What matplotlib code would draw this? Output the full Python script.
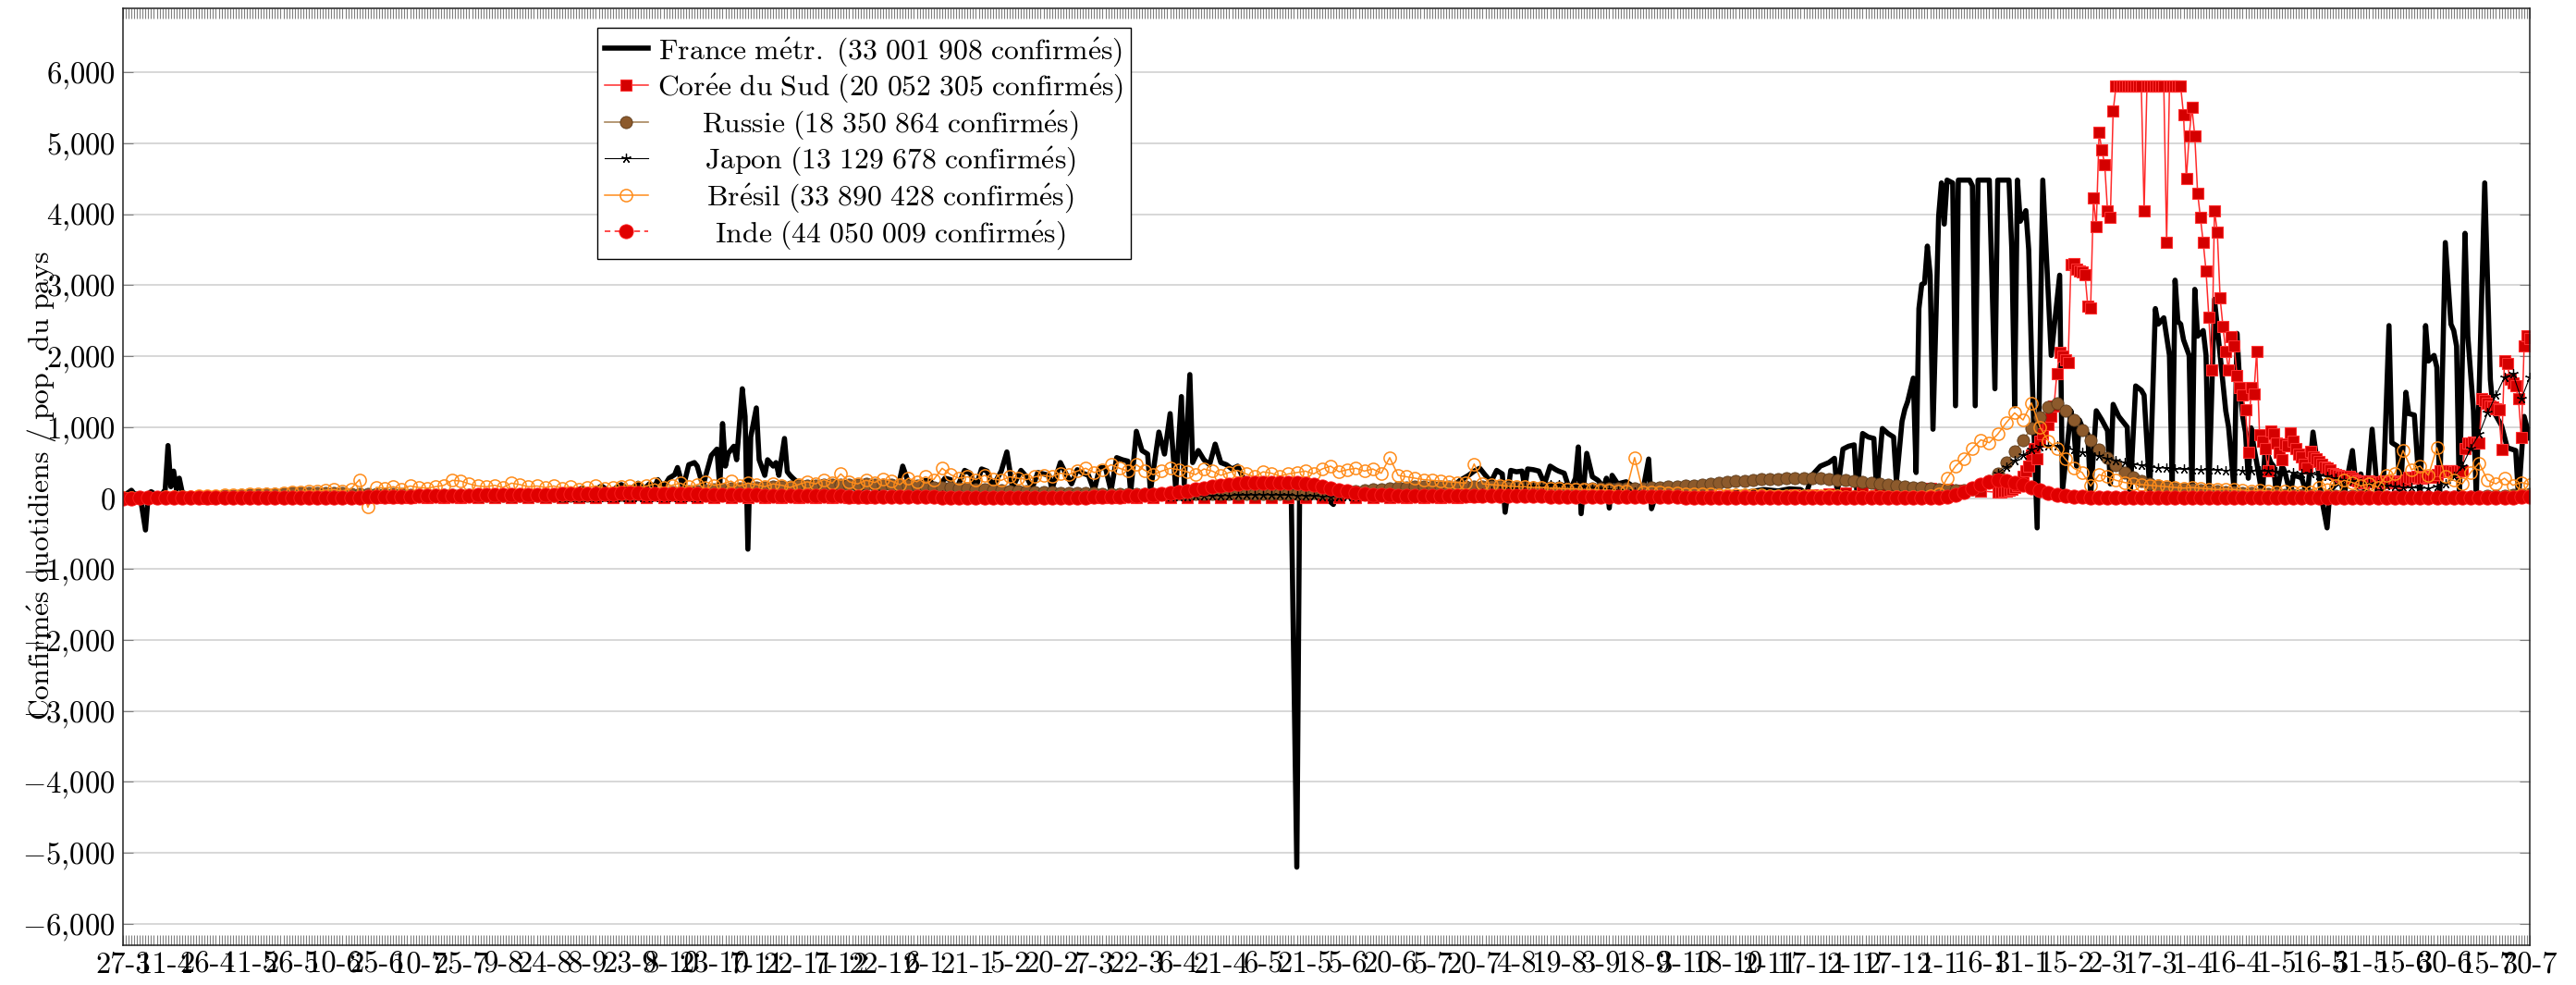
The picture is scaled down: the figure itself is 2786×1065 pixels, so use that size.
import numpy as np
import pandas as pd
import matplotlib
matplotlib.use('Agg')
import matplotlib.pyplot as plt

plt.rcParams['mathtext.fontset'] = 'cm'
plt.rcParams['font.family'] = ['cmr10', 'DejaVu Serif']
plt.rcParams['axes.unicode_minus'] = False

start = pd.Timestamp('2020-03-27')
n_days = 856

# France : (jour depuis le 27-3-2020, valeur)
france_day = [0, 2, 3, 4, 6, 8, 9, 10, 12, 14, 15, 16, 17, 18, 19, 20, 21, 22, 24, 27, 30,
              35, 45, 55, 65, 75, 85, 95, 105, 115, 125, 132, 138, 142, 145, 150, 152, 156, 159, 163, 166,
              170, 173, 177, 180, 183, 185, 187, 189, 190, 192,
              194, 196, 197, 199, 201, 203, 204, 206, 209, 211, 212, 213, 214, 215, 217, 218, 220, 221, 222,
              223, 225, 226, 228, 229, 231, 232, 233, 235, 236, 237, 238, 240,
              243, 245, 247, 249, 252, 254, 256, 259, 261, 264, 266, 268, 271, 273, 275, 277, 279, 282, 285,
              287, 289, 292, 294, 296, 299, 301, 303, 305, 307, 309, 312, 314, 316, 319, 321, 323, 325, 327,
              329, 330, 333, 335, 337, 339, 341, 343, 345, 347, 349, 351, 353, 355, 357, 358, 360, 362, 364,
              365, 368, 370, 372, 374, 376, 377, 379, 380, 382, 384, 386, 388, 390, 392, 394, 396, 398, 400,
              403, 406, 409, 412, 415, 417, 418, 421, 425, 430, 431, 440, 450, 460, 468, 472, 475, 478, 480,
              482, 484, 486, 488, 490, 491, 493, 495, 497, 498, 499, 501, 503, 505, 507, 509, 510, 512, 514,
              516, 517, 518, 520, 522, 524, 526, 527, 528, 529, 531, 534, 537, 540, 542, 543, 545, 550, 555,
              560, 566, 572, 578, 583, 588, 592, 596, 598, 600, 603, 606, 608, 609, 611, 613, 615, 616, 618,
              620, 622, 623, 625, 627, 629, 630, 632, 633, 634, 636, 637, 638, 639, 640, 641, 642, 643, 645,
              646, 647, 648, 650, 651, 652, 654, 656, 657, 658, 659, 661, 663, 665, 666, 668, 670, 671, 672,
              673, 674, 676, 677, 678, 680, 682, 685, 688, 689, 692, 693, 694, 695, 696, 698, 699, 701, 703,
              705, 706, 707, 709, 711, 712, 713, 715, 717, 718, 720, 722, 723, 725, 727, 728, 729, 730, 731,
              732, 734, 735, 736, 737, 739, 740, 741, 743, 745, 747, 748, 750, 751, 752, 753, 754, 755, 756,
              757, 758, 760, 761, 763, 764, 765, 767, 768, 770, 771, 773, 774, 776, 778, 780, 781, 783, 784,
              786, 788, 789, 792, 793, 794, 795, 797, 799, 800, 801, 803, 805, 806, 808, 809, 811, 812, 814,
              816, 818, 819, 821, 822, 823, 825, 827, 828, 829, 830, 832, 833, 835, 836, 839, 841, 842, 845,
              847, 850, 851, 853, 855]
france_val = [30, 80, 110, 60, 50, -450, 60, 90, 40, 60, 120, 740, 160, 380, 120, 280, 90, 60, 40, 30, 25,
              20, 15, 10, 8, 8, 10, 12, 15, 20, 30, 45, 60, 40, 70, 90, 50, 110, 60, 140, 80,
              170, 90, 190, 110, 210, 120, 200, 170, 260, 150,
              280, 330, 430, 150, 470, 500, 450, 170, 600, 690, 150, 1050, 450, 630, 730, 540, 1540, 1150, -720,
              860, 1270, 540, 320, 540, 450, 500, 320, 840, 370, 320, 280, 210,
              180, 220, 90, 200, 170, 80, 190, 200, 90, 180, 160, 60, 200, 180, 90, 450, 220, 100, 250,
              230, 110, 280, 260, 120, 390, 350, 150, 410, 380, 160, 380, 650, 150, 390, 300, 140, 360, 340,
              320, 120, 500, 340, 200, 400, 350, 320, 100, 430, 430, 100, 570, 540, 520, 80, 940, 670, 620,
              100, 930, 620, 1190, 120, 1430, 200, 1740, 500, 670, 540, 470, 760, 500, 470, 410, 450, 280, 220,
              180, 150, 130, 120, 100, -5200, 90, 90, 80, -90, 70, 60, 50, 60, 90, 150, 250, 320, 380,
              420, 320, 230, 390, 340, -200, 390, 370, 380, 150, 410, 400, 380, 200, 450, 400, 380, 350, 100,
              280, 720, -220, 630, 300, 250, 150, 280, -140, 320, 200, 230, 150, 120, 550, -150, 100, 80, 70,
              60, 60, 70, 90, 120, 100, 130, 120, 60, 320, 450, 500, 560, 60, 690, 730, 750, 50, 910,
              860, 840, 60, 980, 910, 860, 230, 1080, 1250, 1360, 1690, 360, 2670, 3010, 3030, 3550, 3140, 970, 3970,
              4440, 3860, 4480, 4440, 1300, 4480, 4480, 4480, 4400, 1300, 4480, 4480, 4480, 1540, 4480, 4480, 4480, 3500, 1300,
              4480, 3900, 4050, 3500, 2000, -420, 4480, 2010, 3140, 100, 1230, 1000, 450, 1100, 1000, 900, 30, 1230, 1100,
              950, 200, 1320, 1150, 1050, 1000, 20, 1580, 1520, 1450, 100, 2670, 2450, 2540, 2010, 200, 3070, 2490, 2450,
              2230, 2010, 80, 2940, 2280, 2360, 2010, 90, 2800, 2010, 1230, 1000, 100, 2320, 1580, 1150, 930, 280, 990,
              710, 500, 30, 710, 500, 450, 40, 450, 370, 50, 320, 300, 280, 30, 930, 360, 10, -420, 100,
              190, 230, 30, 670, 280, 150, 340, 0, 970, 500, 0, 150, 2430, 780, 730, 0, 1490, 1190, 1170,
              0, 2430, 1930, 2010, 1840, 0, 3600, 2450, 2360, 2140, 0, 3730, 2280, 1230, 0, 4440, 1670, 1230, 1020,
              710, 670, 0, 1150, 850]

# Corée du Sud : tous les 6 jours jusqu'au jour 666, puis quotidien
korea_early = [2, 2, 1, 1, 1, 0, 1, 1, 1, 1, 1, 1, 1, 1, 1, 1, 2, 4, 5, 6, 4, 3, 2, 2, 2, 2, 1, 1, 2, 2,
               2, 2, 1, 2, 2, 3, 4, 5, 6, 7, 10,
               9, 10, 12, 13, 17, 20, 19, 18, 16, 14, 12, 9, 8, 7, 8,
               8, 8, 9, 8, 8, 9, 10, 11, 12, 12, 11, 11, 10, 10, 11, 12, 10, 9, 10, 9, 8, 8, 10, 12, 22,
               30, 32, 33, 35, 36, 34, 33, 30, 35, 40, 45, 43, 40, 37, 36, 35, 33, 32, 40, 50,
               60, 70, 85, 110, 130, 140, 135, 120, 110, 100, 80]
korea_late = [90, 95, 100, 110, 130, 150, 180, 220, 300, 380, 450, 600, 700, 560, 800, 900, 1060, 1040, 1150, 1300,
              1750, 2050, 2000, 1950, 1910, 3290, 3300, 3230, 3200, 3190, 3150, 2700, 2680, 4230, 3820, 5150, 4900,
              4700, 4050, 3950, 5450, 5800,
              5800, 5800, 5800, 5800, 5800, 5800, 5800, 5800, 5800, 4050,
              5800, 5800, 5800, 5800, 5800, 5800, 5800, 3600, 5800, 5800, 5800, 5800, 5800,
              5400, 4500, 5100, 5500, 5100, 4300, 3950, 3600, 3200, 2550, 1800, 4050, 3750,
              2820, 2420, 2070, 1800, 2280, 2140, 1730, 1560, 1450, 1240, 650,
              1560, 1470, 2070, 890, 800, 700, 390, 950, 900, 780, 640, 540, 760, 740,
              915, 800, 700, 620, 580, 470, 430, 660, 580, 550, 520, 470, 440, 420,
              400, 340, 330, 320, 310, 300, 310, 300, 280, 250, 240, 230, 220, 230,
              240, 230, 230, 220, 230, 240, 230, 220, 230, 240, 230, 220, 230, 250,
              290, 280, 290, 300, 290, 280, 290, 300, 290, 290, 330, 390, 380, 370,
              380, 390, 370, 380, 390, 380, 700, 780, 770, 790, 780, 770, 1400, 1380,
              1340, 1300, 1280, 1260, 1240, 680, 1930, 1900, 1670, 1620, 1580, 1400, 850, 2150,
              2290, 2250]

# autres pays : une valeur tous les 3 jours
russie = [1, 2, 2, 3, 4, 5, 7, 9, 12, 15, 20, 25, 30, 35, 40, 45, 50, 55, 60, 65,
          68, 70, 72, 72, 70, 68, 66, 64, 62, 60, 58, 56, 55, 53, 50, 48, 46, 45, 44, 43, 42, 40, 38, 37, 36,
          35, 34, 34, 33, 33,
          34, 34, 35, 36, 37, 38, 40, 42, 45, 48, 52, 56, 60, 65, 72, 80, 88, 95, 103, 110, 118, 125, 132, 138,
          143, 148, 152, 157, 162, 167,
          172, 177, 182, 186, 190, 192, 194, 195, 196, 195, 194, 190, 185, 178, 170, 163, 156, 150, 145, 140,
          134, 127, 120, 114, 108, 102, 97, 92, 88, 84,
          80, 77, 74, 71, 68, 66, 64, 62, 61, 60, 60, 59, 58, 58, 58, 57, 57, 58, 58, 59, 59, 60, 60, 60, 59,
          58, 58, 59, 60, 62,
          64, 67, 70, 75, 82, 90, 100, 110, 120, 130, 138, 145, 152, 158, 162, 165, 166, 167, 167, 166, 165,
          163, 160, 158, 156, 154, 152, 150, 148, 146,
          145, 143, 141, 139, 138, 137, 136, 137, 138, 140, 143, 147, 152, 158, 165, 173, 182, 192, 203, 214,
          225, 235, 245, 254, 262, 268, 273, 276, 278, 279,
          278, 274, 268, 260, 250, 238, 226, 214, 202, 190, 178, 166, 155, 145, 135, 125, 117, 112, 115, 130,
          170, 240, 350, 500, 660, 820, 980, 1140, 1280, 1330,
          1230, 1100, 960, 820, 690, 570, 460, 360, 290, 240, 200, 175, 155, 140, 128, 118, 110, 102, 95, 88,
          82, 76, 70, 65, 60, 55, 50, 46, 43, 40,
          37, 35, 33, 31, 29, 28, 26, 25, 24, 23, 22, 22, 21, 21, 21, 22, 22, 23, 24, 26, 28, 32, 36, 42, 50, 60]
japon = [0, 0, 1, 1, 2, 2, 3, 3, 2, 2, 1, 1, 1, 0, 0, 0, 0, 0, 0, 0,
         0, 0, 0, 0, 0, 1, 1, 1, 1, 2, 2, 3, 4, 5, 6, 7, 8, 8, 8, 8, 7, 7, 6, 6, 5, 5, 5, 4, 4, 4,
         4, 4, 4, 4, 4, 4, 4, 4, 4, 4, 4, 4, 4, 4, 5, 5, 5, 6, 7, 8, 10, 11, 12, 13, 14, 15, 16, 17, 18, 19,
         20, 20, 21, 22, 23, 24, 25, 26, 28, 30, 33, 36, 40, 44, 48, 50, 48, 44, 38, 32, 28, 24, 20, 17, 15,
         12, 11, 10, 10, 9,
         9, 9, 8, 9, 9, 10, 11, 11, 12, 13, 14, 15, 16, 18, 20, 22, 25, 28, 30, 33, 35, 37, 40, 43, 45, 46,
         45, 43, 40, 36,
         32, 28, 25, 22, 20, 18, 15, 14, 13, 12, 12, 13, 14, 16, 18, 20, 24, 30, 38, 48, 60, 75, 92, 110, 128,
         145, 160, 172, 182, 188,
         190, 185, 178, 168, 155, 140, 125, 110, 95, 80, 65, 52, 42, 34, 26, 20, 15, 11, 8, 6, 5, 4, 3, 3, 2,
         2, 2, 1, 1, 1,
         1, 1, 1, 1, 1, 1, 1, 1, 1, 1, 1, 1, 1, 1, 2, 3, 8, 25, 55, 100, 170, 260, 350, 440, 530, 610, 680,
         720, 740, 730,
         710, 680, 650, 620, 590, 560, 530, 500, 480, 460, 440, 430, 420, 410, 405, 400, 400, 395, 395, 390,
         390, 390, 385, 380, 380, 375, 370, 360, 350, 340,
         320, 300, 280, 260, 240, 220, 200, 185, 170, 160, 150, 145, 140, 140, 160, 200, 300, 450, 700, 900,
         1200, 1450, 1700, 1750, 1400, 1700]
bresil = [5, 6, 8, 10, 12, 14, 16, 20, 25, 28, 32, 35, 40, 45, 50, 55, 60, 55, 65, 70,
          80, 90, 100, 95, 110, 120, 100, 130, 260, -130, 150, 140, 160, 130, 170, 150, 140, 160, 180, 250,
          240, 200, 170, 160, 180, 150, 210, 190, 160, 170,
          150, 170, 140, 160, 130, 150, 170, 140, 150, 160, 180, 150, 170, 200, 150, 180, 210, 160, 190, 230,
          180, 200, 240, 170, 210, 190, 160, 200, 180, 150,
          190, 230, 200, 260, 210, 340, 230, 200, 250, 220, 270, 240, 190, 280, 230, 300, 260, 420, 330, 280,
          300, 260, 320, 270, 250, 300, 280, 260, 300, 320,
          300, 350, 330, 380, 420, 360, 400, 470, 420, 380, 470, 390, 330, 380, 420, 400, 370, 330, 410, 380,
          320, 360, 390, 340, 300, 370, 350, 310, 340, 360,
          380, 340, 410, 450, 370, 400, 420, 380, 410, 350, 570, 320, 300, 280, 260, 250, 240, 230, 220, 210,
          480, 200, 190, 180, 170, 160, 160, 150, 150, 140,
          140, 130, 130, 120, 120, 110, 110, 100, 100, 570, 90, 80, 80, 75, 70, 65, 60, 60, 55, 50,
          50, 45, 45, 40, 40, 35, 35, 30, 30, 30,
          30, 30, 28, 28, 26, 25, 24, 23, 22, 22, 22, 22, 22, 25, 35, 60, 280, 450, 560, 700,
          820, 780, 900, 1060, 1200, 1100, 1340, 1000, 800, 700,
          550, 420, 360, 170, 330, 300, 250, 220, 200, 190, 180, 170, 160, 150, 140, 150, 140, 130, 120, 130,
          120, 110, 100, 110, 100, 90, 100, 90, 80, 90,
          150, 200, 180, 250, 220, 170, 200, 150, 320, 340, 670, 400, 450, 320, 710, 300, 250, 200, 360, 495,
          250, 200, 280, 180, 220, 190]
inde = [0, 0, 1, 1, 1, 1, 1, 2, 2, 2, 3, 3, 3, 4, 4, 5, 5, 5, 6, 6,
        7, 7, 8, 8, 9, 10, 11, 12, 13, 15, 17, 19, 21, 23, 25, 27, 29, 31, 33, 35, 37, 38, 40, 42, 43,
        44, 45, 46, 47, 48,
        50, 52, 54, 56, 58, 60, 62, 64, 65, 66, 67, 66, 65, 64, 62, 60, 58, 56, 54, 52, 50, 48, 46, 44, 42,
        40, 38, 36, 35, 34,
        33, 32, 31, 30, 29, 28, 26, 24, 22, 21, 20, 19, 18, 17, 16, 15, 14, 13, 12, 11, 11, 10, 10, 10, 9,
        9, 9, 9, 10, 10,
        10, 10, 11, 12, 13, 15, 17, 20, 23, 28, 33, 40, 48, 58, 70, 85, 100, 120, 140, 160, 175, 190, 200,
        210, 215, 220, 220, 218, 215, 210,
        200, 185, 165, 140, 115, 92, 75, 62, 52, 45, 40, 36, 33, 31, 30, 29, 29, 28, 28, 28, 28, 29, 29, 29,
        28, 28, 27, 27, 27, 26,
        26, 25, 25, 24, 24, 23, 22, 21, 20, 19, 18, 17, 16, 15, 14, 13, 12, 12, 11, 11, 10, 10, 9, 9, 8, 8,
        8, 7, 7, 7,
        7, 6, 6, 6, 5, 5, 5, 5, 5, 5, 5, 5, 6, 7, 8, 11, 20, 45, 90, 140, 185, 225, 250, 245, 220, 185, 145,
        105, 75, 50,
        35, 25, 18, 13, 10, 8, 6, 5, 4, 3, 3, 2, 2, 2, 2, 2, 2, 2, 1, 1, 1, 1, 1, 1, 2, 2, 2, 2, 2, 2,
        2, 2, 2, 2, 2, 2, 2, 2, 2, 3, 3, 4, 4, 5, 6, 7, 8, 9, 10, 10, 11, 12, 13, 13, 14, 14]

labels = ['France métr. (33 001 908 confirmés)',
          'Corée du Sud (20 052 305 confirmés)',
          'Russie (18 350 864 confirmés)',
          'Japon (13 129 678 confirmés)',
          'Brésil (33 890 428 confirmés)',
          'Inde (44 050 009 confirmés)']
ylabel = 'Confirmés quotidiens / pop. du pays'


def to_dates(days):
    return (start + pd.to_timedelta(np.asarray(days), unit='D')).to_numpy()


def every(vals, step, first=0):
    return to_dates(first + step * np.arange(len(vals)))


def inner(s):
    return r'\mathrm{' + s.replace(' ', r'\ ').replace('é', r'\acute{e}') + '}'


FS_TICK = 23.5
FS_TXT = 22.8
fig = plt.figure(figsize=(27.86, 10.65), dpi=100)
ax = fig.add_axes([0.04774, 0.04038, 0.93431, 0.95117])

h_fr, = ax.plot(to_dates(france_day), france_val, color='black', lw=4)
korea_x = np.concatenate([every(korea_early, 6), every(korea_late, 1, 667)])
h_ko, = ax.plot(korea_x, korea_early + korea_late, color='#ff2a2a', lw=1.1,
                marker='s', ms=8.8, mfc='#d40000', mec='#ff3030', mew=0.8)
h_ru, = ax.plot(every(russie, 3), russie, color='#a8865e', lw=1.2,
                marker='o', ms=9.5, mfc='#8c5a2c', mec='#5c3a1a', mew=0.6)
h_ja, = ax.plot(every(japon, 3), japon, color='black', lw=0.8,
                marker=(5, 2), ms=7.5, mec='black', mew=0.9)
h_br, = ax.plot(every(bresil, 3), bresil, color='#ff8c1a', lw=1.1,
                marker='o', ms=9.5, mfc='none', mec='#ff8c1a', mew=1.1)
h_in, = ax.plot(every(inde, 3), inde, color='#ff1a1a', lw=1.1, ls=(0, (4, 3)),
                marker='o', ms=11, mfc='#e00000', mec='#ff2020', mew=0.6)

# axes
all_days = to_dates(np.arange(n_days))
ax.set_xlim(all_days[0], all_days[-1])
ax.set_ylim(-6300, 6900)
ax.set_xticks(all_days)
xt = [f'{d.day}-{d.month}' if i % 15 == 0 else '' for i, d in enumerate(pd.to_datetime(all_days))]
ax.set_xticklabels(xt, fontsize=FS_TICK)
yt = np.arange(-6000, 6001, 1000)
ax.set_yticks(yt)
ax.set_yticklabels(['$' + f'{v:,}'.replace(',', '{,}') + '$' for v in yt], fontsize=FS_TICK)
ax.tick_params(axis='both', direction='in', length=8, width=0.8, color='#808080',
               top=True, right=True)
ax.tick_params(axis='x', pad=5)
ax.tick_params(axis='y', pad=6)
ax.yaxis.grid(True, color='#d4d4d4', lw=1.3)
ax.set_axisbelow(True)
for s in ax.spines.values():
    s.set_color('#222222')
    s.set_linewidth(1.1)

ax.set_ylabel('$' + inner(ylabel) + '$', fontsize=FS_TXT)
ax.yaxis.set_label_coords(-0.027, 0.49)

leg = ax.legend([h_fr, h_ko, h_ru, h_ja, h_br, h_in], ['$' + inner(l) + '$' for l in labels],
                loc='upper left', bbox_to_anchor=(0.197, 0.979), borderaxespad=0,
                fontsize=FS_TXT, fancybox=False, framealpha=1, edgecolor='black',
                borderpad=0.25, handlelength=1.5, handletextpad=0.3, labelspacing=0.13)
leg.get_frame().set_linewidth(1.0)

# centrer les textes de la légende comme pgfplots
fig.canvas.draw()
rend = fig.canvas.get_renderer()
t1 = fig.text(0, 0, r'$\mathrm{x}\hspace{10}\mathrm{x}$', fontsize=FS_TXT)
t0 = fig.text(0, 0, r'$\mathrm{xx}$', fontsize=FS_TXT)
em = (t1.get_window_extent(rend).width - t0.get_window_extent(rend).width) / 10
t0.remove()
t1.remove()
ws = [t.get_window_extent(rend).width for t in leg.get_texts()]
wmax = max(ws)
for t, w, l in zip(leg.get_texts(), ws, labels):
    pad = (wmax - w) / 2 / em
    t.set_text(r'$\hspace{' + f'{pad:.3f}' + '}' + inner(l) + '$')

fig.savefig('out.png', dpi=100)
